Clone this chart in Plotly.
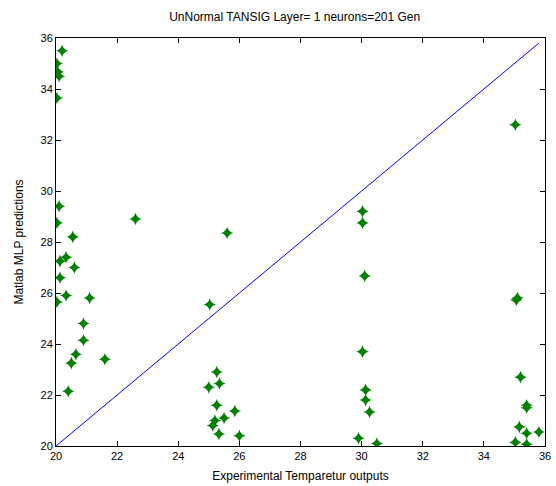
import plotly.graph_objects as go

exp_x = [20.2, 20.03, 20.06, 20.1, 20.03, 20.1, 20.03, 20.55, 20.33, 20.13, 20.6, 20.13,
         20.33, 20.03, 21.1, 20.9, 20.9, 20.65, 20.5, 21.6, 20.4, 22.6,
         25.6, 25.03, 25.26, 25.35, 25.0, 25.26, 25.85, 25.2, 25.5, 25.13, 25.33, 26.0,
         30.03, 30.03, 30.1, 30.03, 30.13, 30.13, 30.26, 29.9, 30.5,
         35.03, 35.06, 35.1, 35.2, 35.4, 35.4, 35.16, 35.4, 35.8, 35.03, 35.4]
pred_y = [35.5, 35.0, 34.67, 34.5, 33.65, 29.4, 28.75, 28.2, 27.4, 27.25, 27.0, 26.6,
          25.9, 25.65, 25.8, 24.8, 24.15, 23.6, 23.25, 23.4, 22.15, 28.9,
          28.35, 25.55, 22.9, 22.45, 22.3, 21.6, 21.37, 21.0, 21.1, 20.8, 20.47, 20.4,
          29.2, 28.75, 26.67, 23.7, 22.2, 21.8, 21.33, 20.3, 20.1,
          32.6, 25.73, 25.8, 22.7, 21.6, 21.5, 20.75, 20.5, 20.55, 20.15, 20.07]
line_x = [20, 35.8]
line_y = [20, 35.8]
ticks = [20, 22, 24, 26, 28, 30, 32, 34, 36]

fig = go.Figure()
fig.add_trace(go.Scatter(x=line_x, y=line_y, mode="lines",
                         line=dict(color="#0000ff", width=1), showlegend=False))
fig.add_trace(go.Scatter(x=exp_x, y=pred_y, mode="markers",
                         marker=dict(symbol="star-diamond", size=9, color="#008000"),
                         showlegend=False))

axis_common = dict(range=[20, 36], tickvals=ticks, ticks="inside", ticklen=5,
                   tickcolor="black", showline=True, linecolor="black", linewidth=1,
                   mirror="ticks", showgrid=False, zeroline=False, automargin=False,
                   tickfont=dict(family="Liberation Sans Narrow, Arial", size=11, color="black"))
fig.update_xaxes(**axis_common,
                 title=dict(text="Experimental Temparetur outputs", standoff=10,
                            font=dict(family="Liberation Sans Narrow, Arial", size=12, color="black")))
fig.update_yaxes(**axis_common,
                 title=dict(text="Matlab MLP predictions", standoff=14,
                            font=dict(family="Liberation Sans Narrow, Arial", size=12, color="black")))
fig.update_layout(
    width=556, height=486,
    margin=dict(l=56, r=11, t=38, b=40),
    paper_bgcolor="white", plot_bgcolor="white",
    title=dict(text="UnNormal TANSIG Layer= 1 neurons=201 Gen", x=0.53, xanchor="center",
               y=0.965, yanchor="middle",
               font=dict(family="Liberation Sans Narrow, Arial", size=12, color="black")),
)
fig.write_html("out.html")
